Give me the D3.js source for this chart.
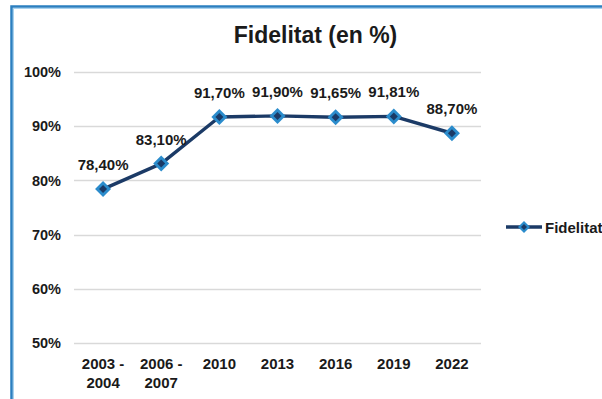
<!DOCTYPE html>
<html>
<head>
<meta charset="utf-8">
<script src="https://cdn.jsdelivr.net/npm/d3@7"></script>
<style>
  html, body { margin: 0; padding: 0; background: #fff; }
  svg { display: block; }
  text { font-family: Arial, "Liberation Sans", sans-serif; font-weight: bold; fill: #1a1a1a; }
</style>
</head>
<body>
<svg id="chart" width="602" height="399"></svg>
<script>
// Fidelity rate per survey period
const categories = ["2003 - 2004", "2006 - 2007", "2010", "2013", "2016", "2019", "2022"];
const values = [78.40, 83.10, 91.70, 91.90, 91.65, 91.81, 88.70];
const valueLabels = ["78,40%", "83,10%", "91,70%", "91,90%", "91,65%", "91,81%", "88,70%"];
const yTicks = [50, 60, 70, 80, 90, 100];
const seriesName = "Fidelitat";
const title = "Fidelitat (en %)";

const svg = d3.select("#chart");
const lineColor = "#1b3a66";
const markerOuter = "#2b8ccc";

// Outer frame (runs off the right and bottom edges)
svg.append("rect")
  .attr("x", 11.5).attr("y", 6.5)
  .attr("width", 620).attr("height", 420)
  .attr("fill", "none")
  .attr("stroke", "#2b7fc0")
  .attr("stroke-width", 2.5);
svg.append("rect")
  .attr("x", 13.5).attr("y", 8.5)
  .attr("width", 620).attr("height", 420)
  .attr("fill", "none")
  .attr("stroke", "#a9d3ef")
  .attr("stroke-width", 1);

const plot = { left: 74, right: 481, top: 72, bottom: 343 };

const x = d3.scaleBand().domain(categories).range([plot.left, plot.right]);
const y = d3.scaleLinear().domain([50, 100]).range([plot.bottom, plot.top]);

// Title
svg.append("text")
  .attr("x", 315.5).attr("y", 43)
  .attr("text-anchor", "middle")
  .style("font-size", "23px")
  .text(title);

// Horizontal gridlines
svg.append("g").selectAll("line").data(yTicks).join("line")
  .attr("x1", plot.left).attr("x2", plot.right)
  .attr("y1", d => Math.round(y(d)) + 0.5).attr("y2", d => Math.round(y(d)) + 0.5)
  .attr("stroke", "#d9d9d9").attr("stroke-width", 1.5);

// Y axis labels
const yAxis = d3.axisLeft(y).tickValues(yTicks).tickSize(0).tickPadding(13)
  .tickFormat(d => d + "%");
const gy = svg.append("g").attr("transform", `translate(${plot.left},0)`).call(yAxis);
gy.select(".domain").remove();
gy.selectAll("text")
  .style("font-size", "14.5px")
  .style("font-family", "Arial, 'Liberation Sans', sans-serif")
  .attr("fill", "#1a1a1a");

// X axis labels (two-line where needed)
const xAxis = d3.axisBottom(x).tickSize(0).tickPadding(0).tickFormat("");
const gx = svg.append("g").attr("transform", `translate(0,${plot.bottom})`).call(xAxis);
gx.select(".domain").remove();
gx.selectAll(".tick").each(function(d) {
  const parts = d.includes(" - ") ? [d.split(" - ")[0] + " -", d.split(" - ")[1]] : [d];
  const t = d3.select(this).append("text")
    .attr("text-anchor", "middle")
    .style("font-size", "15px");
  parts.forEach((p, i) => {
    t.append("tspan").attr("x", 0).attr("y", 26 + i * 19).text(p);
  });
});

// Line
const data = categories.map((c, i) => ({ c, v: values[i], label: valueLabels[i] }));
const cx = d => x(d.c) + x.bandwidth() / 2;
svg.append("path")
  .datum(data)
  .attr("fill", "none")
  .attr("stroke", lineColor)
  .attr("stroke-width", 3.4)
  .attr("stroke-linejoin", "round")
  .attr("d", d3.line().x(cx).y(d => y(d.v)));

// Diamond markers
function diamond(sel, r, fill) {
  sel.append("path")
    .attr("d", `M0,${-r}L${r},0L0,${r}L${-r},0Z`)
    .attr("fill", fill);
}
const markers = svg.append("g").selectAll("g").data(data).join("g")
  .attr("transform", d => `translate(${cx(d)},${y(d.v)})`);
markers.each(function() {
  const g = d3.select(this);
  diamond(g, 8, markerOuter);
  diamond(g, 4, lineColor);
});

// Value labels
svg.append("g").selectAll("text").data(data).join("text")
  .attr("x", cx)
  .attr("y", d => y(d.v) - 19)
  .attr("text-anchor", "middle")
  .style("font-size", "15px")
  .text(d => d.label);

// Legend
const lg = svg.append("g").attr("transform", "translate(506,227)");
lg.append("line").attr("x1", 0).attr("x2", 36).attr("y1", 0).attr("y2", 0)
  .attr("stroke", lineColor).attr("stroke-width", 3.4);
const lm = lg.append("g").attr("transform", "translate(18,0)");
diamond(lm, 6, markerOuter);
diamond(lm, 3, lineColor);
lg.append("text").attr("x", 39).attr("y", 5.5)
  .style("font-size", "15px")
  .text(seriesName);
</script>
</body>
</html>
